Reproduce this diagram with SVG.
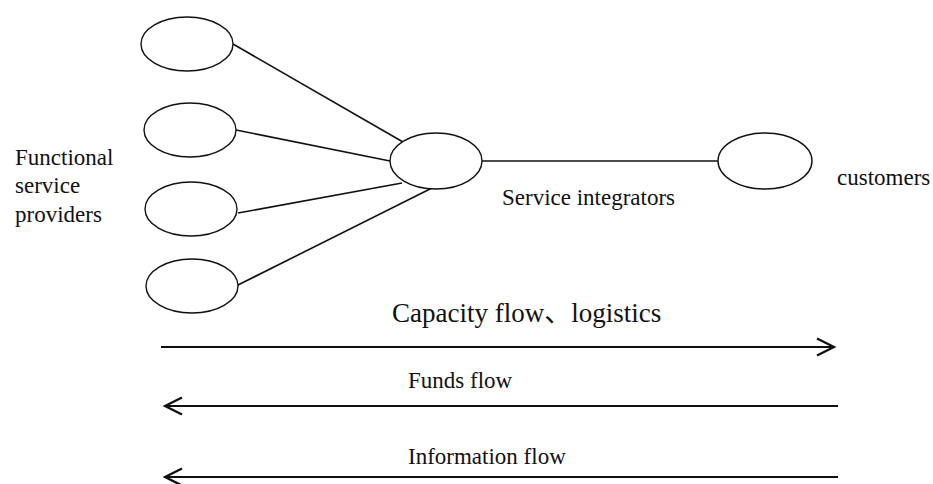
<svg xmlns="http://www.w3.org/2000/svg" width="933" height="484" viewBox="0 0 933 484">
<defs>
<style>
.node{fill:#fff;stroke:#111;stroke-width:1.4}
.edge{stroke:#111;stroke-width:1.6;fill:none}
.flow{stroke:#111;stroke-width:2.2;fill:none;marker-end:url(#arr)}
text{font-family:"Liberation Serif","Noto Sans CJK SC",serif;fill:#111;font-size:23px}
</style>
<marker id="arr" markerUnits="userSpaceOnUse" viewBox="-20 -11 22 22" refX="0" refY="0" markerWidth="22" markerHeight="22" orient="auto">
<path d="M-17,-8.5 L0,0 L-17,8.5" fill="none" stroke="#111" stroke-width="2.4"/>
</marker>
</defs>
<rect width="933" height="484" fill="#fff"/>
<g id="connectors">
<line class="edge" x1="233" y1="44" x2="403" y2="142"/>
<line class="edge" x1="236" y1="130" x2="390" y2="161"/>
<line class="edge" x1="238" y1="213" x2="402" y2="183"/>
<line class="edge" x1="238" y1="285" x2="432" y2="188"/>
<line class="edge" x1="482" y1="161" x2="718" y2="161"/>
<line class="flow" x1="161" y1="347" x2="834" y2="347"/>
<line class="flow" x1="838" y1="406" x2="165" y2="406"/>
<line class="flow" x1="838" y1="477" x2="165" y2="477"/>
</g>
<g id="provider1"><ellipse class="node" cx="187" cy="44" rx="46" ry="27"/></g>
<g id="provider2"><ellipse class="node" cx="190" cy="130" rx="46" ry="27"/></g>
<g id="provider3"><ellipse class="node" cx="191" cy="209" rx="46" ry="27"/></g>
<g id="provider4"><ellipse class="node" cx="192" cy="286" rx="46" ry="27"/></g>
<g id="integrator"><ellipse class="node" cx="436" cy="161" rx="46" ry="28"/>
<text x="502" y="205">Service integrators</text></g>
<g id="customer"><ellipse class="node" cx="765" cy="161" rx="47" ry="28"/>
<text x="837" y="185">customers</text></g>
<g id="providers-label">
<text x="15" y="165">Functional</text>
<text x="15" y="193">service</text>
<text x="15" y="222">providers</text>
</g>
<g id="flow-labels">
<text x="392" y="322" style="font-size:27px">Capacity flow、logistics</text>
<text x="408" y="388">Funds flow</text>
<text x="408" y="464">Information flow</text>
</g>
</svg>
